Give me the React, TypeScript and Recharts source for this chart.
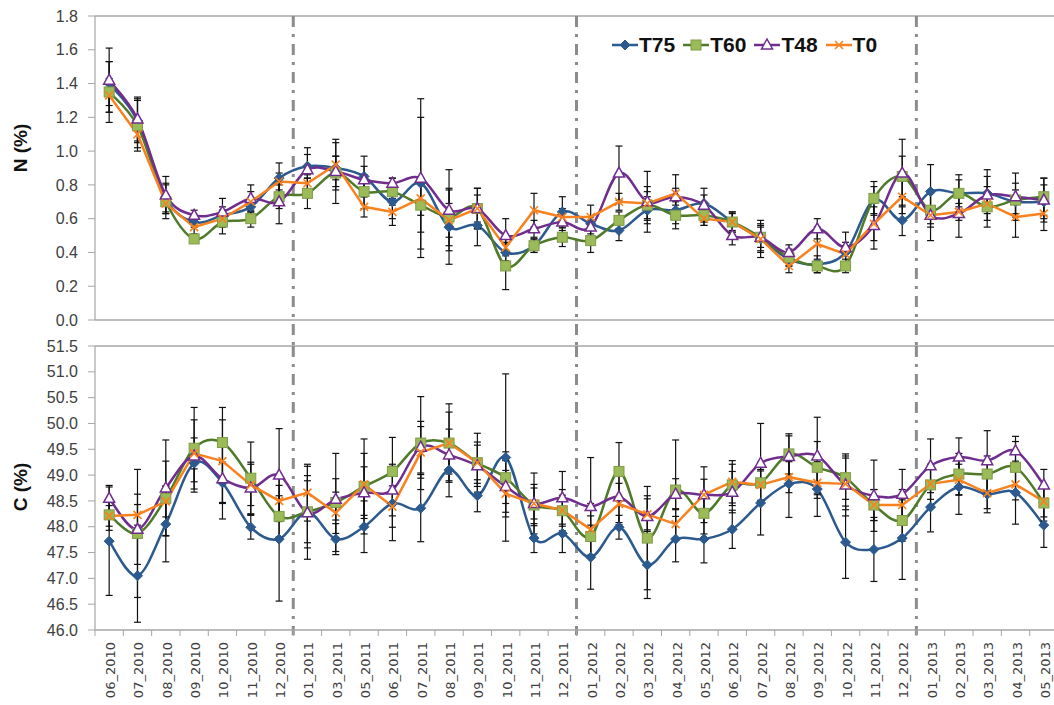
import React from 'react';
import { LineChart, Line, XAxis, YAxis, ErrorBar, ReferenceLine, Legend, Label } from 'recharts';

// Sampling dates
const months = [
  '06_2010', '07_2010', '08_2010', '09_2010', '10_2010', '11_2010', '12_2010',
  '01_2011', '03_2011', '05_2011', '06_2011', '07_2011', '08_2011', '09_2011', '10_2011', '11_2011', '12_2011',
  '01_2012', '02_2012', '03_2012', '04_2012', '05_2012', '06_2012', '07_2012', '08_2012', '09_2012', '10_2012', '11_2012', '12_2012',
  '01_2013', '02_2013', '03_2013', '04_2013', '05_2013',
];

// Nitrogen content (%)
const nT75 = [1.40, 1.18, 0.72, 0.58, 0.62, 0.67, 0.84, 0.91, 0.90, 0.85, 0.70, 0.81, 0.55, 0.56, 0.40, 0.44, 0.64, 0.57, 0.53, 0.65, 0.65, 0.69, 0.58, 0.48, 0.36, 0.33, 0.40, 0.71, 0.59, 0.76, 0.75, 0.75, 0.70, 0.70];
const nT60 = [1.35, 1.15, 0.70, 0.48, 0.58, 0.60, 0.73, 0.75, 0.87, 0.76, 0.76, 0.68, 0.61, 0.66, 0.32, 0.44, 0.49, 0.47, 0.59, 0.68, 0.62, 0.62, 0.58, 0.49, 0.37, 0.32, 0.32, 0.72, 0.85, 0.65, 0.75, 0.67, 0.71, 0.73];
const nT48 = [1.42, 1.19, 0.74, 0.62, 0.64, 0.72, 0.70, 0.89, 0.88, 0.83, 0.81, 0.84, 0.65, 0.66, 0.50, 0.54, 0.58, 0.55, 0.87, 0.70, 0.73, 0.68, 0.50, 0.49, 0.40, 0.54, 0.43, 0.56, 0.87, 0.62, 0.63, 0.74, 0.73, 0.71];
const nT0 = [1.33, 1.10, 0.69, 0.55, 0.60, 0.70, 0.82, 0.81, 0.92, 0.67, 0.64, 0.72, 0.59, 0.66, 0.43, 0.65, 0.61, 0.61, 0.70, 0.69, 0.75, 0.60, 0.58, 0.48, 0.32, 0.45, 0.39, 0.57, 0.73, 0.62, 0.64, 0.69, 0.61, 0.63];

// Nitrogen standard deviations
const nErrT75 = [0.13, 0.13, 0.09, 0.03, 0.05, 0.05, 0.09, 0.07, 0.07, 0.12, 0.10, 0.39, 0.22, 0.12, 0.05, 0.04, 0.09, 0.04, 0.06, 0.08, 0.08, 0.05, 0.05, 0.11, 0.04, 0.05, 0.06, 0.08, 0.09, 0.16, 0.08, 0.10, 0.07, 0.10];
const nErrT60 = [0.18, 0.15, 0.10, 0.02, 0.07, 0.05, 0.07, 0.09, 0.10, 0.10, 0.08, 0.16, 0.17, 0.12, 0.14, 0.04, 0.055, 0.07, 0.05, 0.08, 0.08, 0.06, 0.06, 0.08, 0.05, 0.04, 0.04, 0.10, 0.12, 0.10, 0.11, 0.12, 0.10, 0.11];
const nErrT48 = [0.19, 0.13, 0.11, 0.03, 0.08, 0.08, 0.13, 0.13, 0.19, 0.08, 0.03, 0.47, 0.24, 0.08, 0.10, 0.05, 0.05, 0.04, 0.16, 0.18, 0.05, 0.10, 0.055, 0.06, 0.045, 0.06, 0.09, 0.14, 0.20, 0.15, 0.14, 0.15, 0.14, 0.13];
const nErrT0 = [0.10, 0.08, 0.05, 0.04, 0.05, 0.06, 0.05, 0.05, 0.13, 0.06, 0.08, 0.10, 0.10, 0.12, 0.05, 0.10, 0.05, 0.07, 0.05, 0.10, 0.11, 0.04, 0.06, 0.08, 0.04, 0.10, 0.05, 0.10, 0.10, 0.05, 0.05, 0.06, 0.12, 0.10];

// Carbon content (%)
const cT75 = [47.72, 47.05, 48.05, 49.23, 48.85, 47.99, 47.76, 48.29, 47.76, 48.00, 48.45, 48.36, 49.10, 48.60, 49.34, 47.78, 47.87, 47.41, 47.99, 47.26, 47.76, 47.76, 47.95, 48.46, 48.83, 48.73, 47.70, 47.56, 47.78, 48.38, 48.77, 48.63, 48.66, 48.03];
const cT60 = [48.23, 47.87, 48.55, 49.52, 49.63, 48.94, 48.20, 48.29, 48.47, 48.78, 49.07, 49.62, 49.62, 49.24, 48.95, 48.42, 48.31, 47.81, 49.07, 47.78, 48.71, 48.26, 48.81, 48.85, 49.41, 49.15, 48.95, 48.42, 48.12, 48.81, 49.02, 49.02, 49.15, 48.46];
const cT48 = [48.55, 47.95, 48.75, 49.37, 48.93, 48.75, 49.00, 48.27, 48.53, 48.66, 48.71, 49.54, 49.39, 49.18, 48.78, 48.45, 48.56, 48.39, 48.58, 48.20, 48.63, 48.62, 48.67, 49.23, 49.36, 49.37, 48.81, 48.60, 48.63, 49.18, 49.35, 49.28, 49.47, 48.81];
const cT0 = [48.21, 48.23, 48.49, 49.42, 49.27, 48.81, 48.50, 48.66, 48.27, 48.82, 48.39, 49.44, 49.62, 49.24, 48.64, 48.45, 48.32, 47.95, 48.44, 48.24, 48.05, 48.62, 48.87, 48.81, 48.96, 48.85, 48.83, 48.42, 48.42, 48.83, 48.91, 48.65, 48.82, 48.49];

// Carbon standard deviations
const cErrT75 = [1.05, 0.90, 0.73, 0.36, 0.40, 0.23, 1.20, 0.60, 0.30, 0.50, 0.72, 0.65, 0.52, 0.31, 1.62, 0.28, 0.37, 0.62, 0.23, 0.65, 0.44, 0.46, 0.37, 0.62, 0.65, 0.53, 0.70, 0.62, 0.80, 0.48, 0.53, 0.36, 0.61, 0.43];
const cErrT60 = [0.30, 1.24, 0.72, 0.79, 0.68, 0.70, 0.40, 0.70, 0.95, 0.92, 0.66, 0.90, 0.60, 0.57, 0.50, 0.40, 0.30, 0.40, 0.56, 1.00, 0.97, 0.40, 0.40, 0.40, 0.39, 0.50, 0.42, 0.30, 0.40, 0.40, 0.40, 0.35, 0.50, 0.35];
const cErrT48 = [0.25, 0.68, 0.93, 0.70, 0.78, 0.50, 0.90, 0.90, 0.40, 0.50, 0.50, 0.50, 0.50, 0.40, 0.50, 0.59, 0.51, 0.95, 0.50, 0.40, 0.30, 0.54, 0.40, 0.77, 0.40, 0.75, 0.60, 0.69, 0.48, 0.52, 0.37, 0.58, 0.28, 0.30];
const cErrT0 = [0.20, 0.20, 0.30, 0.30, 0.80, 0.40, 0.30, 0.55, 0.40, 0.60, 0.40, 0.50, 0.76, 0.40, 0.45, 0.30, 0.40, 0.50, 0.40, 0.30, 0.30, 0.30, 0.41, 0.30, 0.30, 0.30, 0.50, 0.30, 0.30, 0.30, 0.30, 0.30, 0.30, 0.30];

const nTicks = [0, 0.2, 0.4, 0.6, 0.8, 1.0, 1.2, 1.4, 1.6, 1.8];
const cTicks = [46, 46.5, 47, 47.5, 48, 48.5, 49, 49.5, 50, 50.5, 51, 51.5];
// First sampling of each new year
const yearStarts = ['01_2011', '01_2012', '01_2013'];

const nRows = months.map((month, i) => ({
  month,
  T75: nT75[i], T75e: nErrT75[i],
  T60: nT60[i], T60e: nErrT60[i],
  T48: nT48[i], T48e: nErrT48[i],
  T0: nT0[i], T0e: nErrT0[i],
}));

const cRows = months.map((month, i) => ({
  month,
  T75: cT75[i], T75e: cErrT75[i],
  T60: cT60[i], T60e: cErrT60[i],
  T48: cT48[i], T48e: cErrT48[i],
  T0: cT0[i], T0e: cErrT0[i],
}));

const AXIS = '#a6a6a6';
const DIVIDER = '#8c8c8c';
const C75 = '#2c5a8e';
const C60 = '#4f7a2a';
const C60_FILL = '#9bbb59';
const C48 = '#702d8e';
const C0 = '#f7821f';

// Smoothed line through every point (cubic Bezier, Catmull-Rom style tangents)
function smoothCurve(context: any) {
  let xs: number[] = [];
  let ys: number[] = [];
  return {
    areaStart() {},
    areaEnd() {},
    lineStart() { xs = []; ys = []; },
    point(x: number, y: number) { xs.push(+x); ys.push(+y); },
    lineEnd() {
      const n = xs.length;
      if (!n) return;
      context.moveTo(xs[0], ys[0]);
      if (n === 2) { context.lineTo(xs[1], ys[1]); return; }
      for (let i = 0; i < n - 1; i++) {
        const a = Math.max(i - 1, 0);
        const d = Math.min(i + 2, n - 1);
        context.bezierCurveTo(
          xs[i] + (xs[i + 1] - xs[a]) / 6, ys[i] + (ys[i + 1] - ys[a]) / 6,
          xs[i + 1] - (xs[d] - xs[i]) / 6, ys[i + 1] - (ys[d] - ys[i]) / 6,
          xs[i + 1], ys[i + 1],
        );
      }
    },
  };
}

const Diamond = ({ cx, cy }: { cx: number; cy: number }) => (
  <polygon points={`${cx},${cy - 5} ${cx + 5},${cy} ${cx},${cy + 5} ${cx - 5},${cy}`} fill={C75} stroke={C75} strokeWidth={1} />
);
const Square = ({ cx, cy }: { cx: number; cy: number }) => (
  <rect x={cx - 5} y={cy - 5} width={10} height={10} fill={C60_FILL} stroke="#7f9b48" strokeWidth={1} />
);
const Triangle = ({ cx, cy }: { cx: number; cy: number }) => (
  <polygon points={`${cx},${cy - 6} ${cx + 5.5},${cy + 4} ${cx - 5.5},${cy + 4}`} fill="#fff" stroke={C48} strokeWidth={1.5} />
);
const Cross = ({ cx, cy }: { cx: number; cy: number }) => (
  <g stroke={C0} strokeWidth={1.6}>
    <line x1={cx - 4} y1={cy - 4} x2={cx + 4} y2={cy + 4} />
    <line x1={cx - 4} y1={cy + 4} x2={cx + 4} y2={cy - 4} />
  </g>
);

const series = [
  { key: 'T75', color: C75, Marker: Diamond, curve: smoothCurve as any },
  { key: 'T60', color: C60, Marker: Square, curve: smoothCurve as any },
  { key: 'T48', color: C48, Marker: Triangle, curve: smoothCurve as any },
  { key: 'T0', color: C0, Marker: Cross, curve: 'linear' as any },
];

const renderSeries = () =>
  series.map(({ key, color, Marker, curve }) => (
    <Line
      key={key}
      dataKey={key}
      name={key}
      type={curve}
      stroke={color}
      strokeWidth={2.5}
      dot={(p: any) => <Marker key={`${key}-${p.index}`} cx={p.cx} cy={p.cy} />}
      activeDot={false}
      isAnimationActive={false}
    >
      <ErrorBar dataKey={`${key}e`} width={3.5} strokeWidth={1.2} stroke="#111" direction="y" />
    </Line>
  ));

const LegendBox = () => (
  <div style={{ display: 'flex', alignItems: 'center', fontFamily: 'Liberation Sans, Arial, sans-serif', fontWeight: 700, fontSize: 21, color: '#111', whiteSpace: 'nowrap' }}>
    {series.map(({ key, color, Marker }) => (
      <div key={key} style={{ display: 'flex', alignItems: 'center', marginRight: 8 }}>
        <svg width={26} height={16} style={{ display: 'block' }}>
          <line x1={0} y1={8} x2={26} y2={8} stroke={color} strokeWidth={2.5} />
          <Marker cx={13} cy={8} />
        </svg>
        <span style={{ marginLeft: 1 }}>{key}</span>
      </div>
    ))}
  </div>
);

const axisTitle = (text: string, dy: number) => (props: any) => {
  const vb = props.viewBox || { x: 0, y: 0, height: 0 };
  const cx = vb.x + 20;
  const cy = vb.y + vb.height / 2 + dy;
  return (
    <text
      x={cx}
      y={cy}
      transform={`rotate(-90 ${cx} ${cy})`}
      textAnchor="middle"
      dominantBaseline="central"
      fontFamily="Liberation Sans, Arial, sans-serif"
      fontWeight={700}
      fontSize={19}
      fill="#111"
    >
      {text}
    </text>
  );
};

const MonthTick = (props: any) => {
  const { x, y, payload, index } = props;
  const half = typeof payload.offset === 'number' && payload.offset > 0 ? payload.offset : 14.17;
  return (
    <g>
      <line x1={x - half} x2={x - half} y1={y} y2={y + 6} stroke={AXIS} strokeWidth={1} />
      {index === months.length - 1 && <line x1={x + half} x2={x + half} y1={y} y2={y + 6} stroke={AXIS} strokeWidth={1} />}
      <text
        transform={`translate(${x + 6},${y + 12}) rotate(-90)`}
        textAnchor="end"
        fontFamily="DejaVu Sans, Verdana, sans-serif"
        fontSize={13}
        fill="#404040"
      >
        {payload.value}
      </text>
    </g>
  );
};

const yTickStyle = { fill: '#404040', fontSize: 16, fontFamily: 'Liberation Sans, Arial, sans-serif' };
const dividerProps = { stroke: DIVIDER, strokeWidth: 3, strokeDasharray: '11 7 3 7', ifOverflow: 'visible' as const, position: 'start' as const };

export default function App() {
  return (
    <div style={{ position: 'fixed', left: 0, top: 0, width: 1054, height: 705, overflow: 'hidden', background: '#fff' }}>
      <div style={{ position: 'absolute', left: 0, top: 0 }}>
        <LineChart width={1062} height={346} data={nRows} margin={{ top: 16, right: 4, bottom: 26, left: 0 }}>
          <XAxis dataKey="month" type="category" scale="band" hide />
          <YAxis
            domain={[0, 1.8]}
            ticks={nTicks}
            interval={0}
            width={95}
            tickFormatter={(v: number) => v.toFixed(1)}
            tick={yTickStyle}
            tickSize={7}
            tickMargin={10}
            axisLine={{ stroke: AXIS, strokeWidth: 1.2 }}
            tickLine={{ stroke: AXIS }}
          >
            <Label content={axisTitle('N (%)', -20)} />
          </YAxis>
          <ReferenceLine y={1.8} stroke={AXIS} strokeWidth={1.5} />
          <ReferenceLine y={0} stroke={AXIS} strokeWidth={1.5} />
          {yearStarts.map((m) => (
            <ReferenceLine key={m} segment={[{ x: m, y: 1.8 }, { x: m, y: -0.155 }]} {...dividerProps} />
          ))}
          {renderSeries()}
          <Legend
            verticalAlign="middle"
            align="center"
            layout="horizontal"
            wrapperStyle={{ left: 612, top: 33, width: 320, height: 28 }}
            content={() => <LegendBox />}
          />
        </LineChart>
      </div>
      <div style={{ position: 'absolute', left: 0, top: 330 }}>
        <LineChart width={1062} height={375} data={cRows} margin={{ top: 16, right: 4, bottom: 0, left: 0 }}>
          <XAxis
            dataKey="month"
            type="category"
            scale="band"
            interval={0}
            height={75}
            tickLine={false}
            tickSize={0}
            tickMargin={0}
            axisLine={{ stroke: AXIS, strokeWidth: 1.5 }}
            tick={<MonthTick />}
          />
          <YAxis
            domain={[46, 51.5]}
            ticks={cTicks}
            interval={0}
            width={95}
            tickFormatter={(v: number) => v.toFixed(1)}
            tick={yTickStyle}
            tickSize={7}
            tickMargin={10}
            axisLine={{ stroke: AXIS, strokeWidth: 1.2 }}
            tickLine={{ stroke: AXIS }}
          >
            <Label content={axisTitle('C (%)', -1)} />
          </YAxis>
          <ReferenceLine y={51.5} stroke={AXIS} strokeWidth={1.5} />
          {yearStarts.map((m) => (
            <ReferenceLine key={m} segment={[{ x: m, y: 51.5 }, { x: m, y: 45.9 }]} {...dividerProps} />
          ))}
          {renderSeries()}
        </LineChart>
      </div>
    </div>
  );
}
